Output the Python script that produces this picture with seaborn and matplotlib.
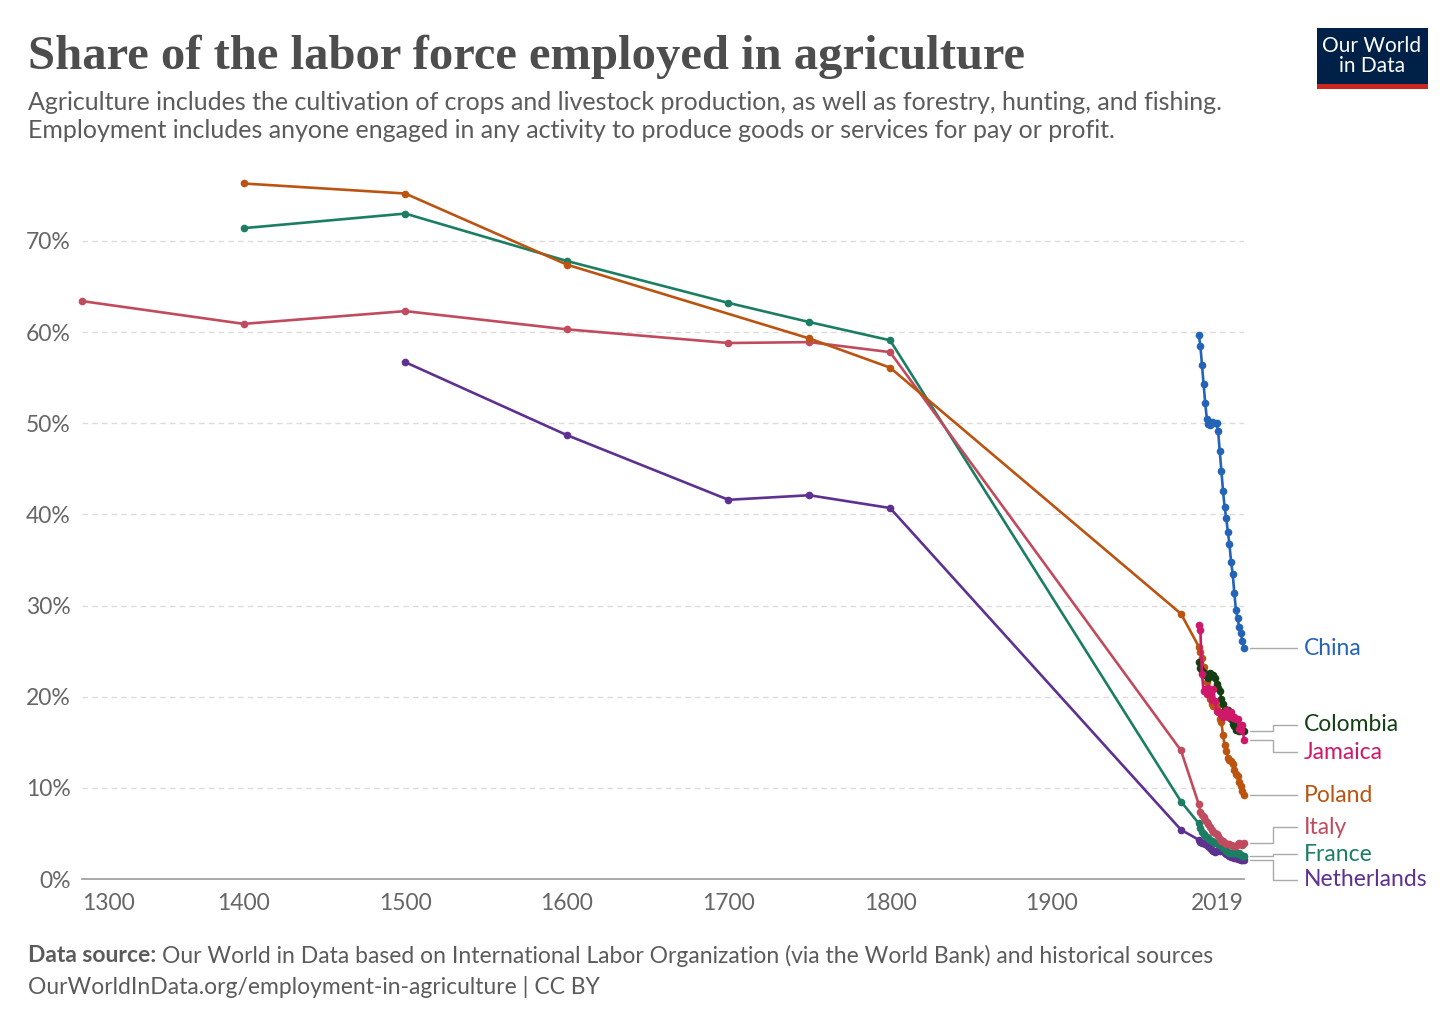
import numpy as np
import pandas as pd
import matplotlib
matplotlib.use("Agg")
import matplotlib.pyplot as plt
import matplotlib.transforms as mtransforms
from matplotlib.patches import Rectangle
import seaborn as sns

# ---------------- data ----------------
modern_years = list(range(1991, 2020))

china_years = modern_years
china_vals = [59.7, 58.5, 56.4, 54.3, 52.2, 50.5, 49.9, 49.8, 50.1, 50.0, 50.0, 50.0,
              49.1, 46.9, 44.8, 42.6, 40.8, 39.6, 38.1, 36.7, 34.8, 33.5, 31.4, 29.5,
              28.6, 27.7, 27.0, 26.1, 25.3]

colombia_years = modern_years
colombia_vals = [23.8, 23.2, 22.8, 22.6, 22.4, 22.3, 22.1, 22.6, 22.3, 22.4, 22.1, 21.4,
                 21.0, 20.6, 19.8, 19.2, 18.7, 18.5, 18.5, 18.3, 17.5, 17.0, 16.8, 16.4,
                 16.3, 16.2, 16.3, 16.4, 16.2]

jamaica_years = modern_years
jamaica_vals = [27.9, 27.3, 22.5, 20.6, 20.8, 20.3, 21.0, 20.4, 19.6, 20.8, 19.5, 18.4,
                18.3, 18.2, 18.1, 17.8, 18.0, 18.5, 17.8, 17.9, 18.3, 17.7, 17.8, 17.5,
                17.6, 16.5, 16.3, 16.9, 15.3]

poland_years = [1400, 1500, 1600, 1750, 1800, 1980] + modern_years
poland_vals = [76.3, 75.2, 67.4, 59.3, 56.1, 29.1,
               25.5, 24.9, 24.2, 23.3, 22.6, 21.6, 20.7, 19.8, 19.2, 19.0, 19.3, 19.0,
               18.4, 17.6, 17.2, 15.8, 14.7, 14.0, 13.3, 13.1, 12.9, 12.6, 12.0, 11.5,
               11.3, 10.6, 10.2, 9.6, 9.2]

italy_years = [1300, 1400, 1500, 1600, 1700, 1750, 1800, 1980] + modern_years
italy_vals = [63.4, 60.9, 62.3, 60.3, 58.8, 58.9, 57.8, 14.1,
              8.2, 7.4, 7.0, 6.8, 6.5, 6.3, 6.0, 5.7, 5.4, 5.2, 5.1, 4.9, 4.7, 4.4,
              4.2, 4.2, 4.0, 3.8, 3.8, 3.8, 3.7, 3.6, 3.6, 3.6, 3.8, 3.9, 3.8, 3.7, 3.9]

france_years = [1400, 1500, 1600, 1700, 1750, 1800, 1980] + modern_years
france_vals = [71.4, 73.0, 67.8, 63.2, 61.1, 59.1, 8.5,
               6.1, 5.6, 5.2, 4.9, 4.7, 4.6, 4.5, 4.3, 4.2, 4.1, 4.0, 3.9, 3.8, 3.7,
               3.6, 3.4, 3.3, 3.1, 3.0, 2.9, 2.9, 2.9, 2.8, 2.8, 2.7, 2.8, 2.6, 2.5, 2.5]

netherlands_years = [1500, 1600, 1700, 1750, 1800, 1980] + modern_years
netherlands_vals = [56.7, 48.7, 41.6, 42.1, 40.7, 5.4,
                    4.3, 4.1, 4.0, 3.9, 3.8, 3.7, 3.6, 3.4, 3.2, 3.1, 3.0, 3.1, 3.2,
                    3.1, 3.2, 3.1, 2.9, 2.7, 2.6, 2.5, 2.4, 2.4, 2.3, 2.3, 2.2, 2.2,
                    2.1, 2.1, 2.1]

countries = ["China", "Colombia", "Jamaica", "Poland", "Italy", "France", "Netherlands"]
series = {
    "China": (china_years, china_vals),
    "Colombia": (colombia_years, colombia_vals),
    "Jamaica": (jamaica_years, jamaica_vals),
    "Poland": (poland_years, poland_vals),
    "Italy": (italy_years, italy_vals),
    "France": (france_years, france_vals),
    "Netherlands": (netherlands_years, netherlands_vals),
}
colors = {
    "China": "#2363B8",
    "Colombia": "#133F13",
    "Jamaica": "#D0186A",
    "Poland": "#BB5411",
    "Italy": "#C14B5E",
    "France": "#1B7E62",
    "Netherlands": "#5E3190",
}
# label y positions (in % units) after de-overlapping, as in the reference
label_y = {"China": 25.2, "Colombia": 16.9, "Jamaica": 13.9, "Poland": 9.0,
           "Italy": 5.7, "France": 2.7, "Netherlands": -0.1}
elbow = {"China": False, "Colombia": True, "Jamaica": True, "Poland": False,
         "Italy": True, "France": True, "Netherlands": True}

xticks = [1300, 1400, 1500, 1600, 1700, 1800, 1900, 2019]
yticks = [0, 10, 20, 30, 40, 50, 60, 70]

rows = []
for c in countries:
    ys, vs = series[c]
    for y, v in zip(ys, vs):
        rows.append({"country": c, "year": y, "share": v})
df = pd.DataFrame(rows)

# ---------------- style ----------------
sns.set_theme(style="white")
plt.rcParams["font.family"] = ["Lato", "DejaVu Sans"]

W, H = 1456, 1028
fig = plt.figure(figsize=(W / 100, H / 100), dpi=100)
ax = fig.add_axes([82 / W, 1 - 879 / H, (1244 - 82) / W, (879 - 168) / H])

for c in ["Netherlands", "France", "Italy", "Poland", "Colombia", "Jamaica", "China"]:
    sub = df[df.country == c]
    sns.lineplot(data=sub, x="year", y="share", color=colors[c], ax=ax,
                 marker="o", markersize=5.5, markeredgewidth=0, linewidth=1.9,
                 estimator=None, sort=False, legend=False)
for ln in ax.lines:
    ln.set_clip_on(False)

ax.set_xlim(1300, 2019)
ax.set_ylim(0, 78)
ax.set_xlabel("")
ax.set_ylabel("")

for v in yticks[1:]:
    ax.axhline(v, color="#dcdcdc", linestyle=(0, (4, 3)), linewidth=1, zorder=0)

for s in ["top", "right", "left"]:
    ax.spines[s].set_visible(False)
ax.spines["bottom"].set_color("#999999")
ax.spines["bottom"].set_linewidth(1.2)

ax.set_yticks(yticks)
ax.set_yticklabels([f"{v}%" for v in yticks], fontsize=16.5, color="#666666")
ax.tick_params(axis="y", length=0, pad=8)
ax.set_xticks(xticks)
xl = ax.set_xticklabels([str(v) for v in xticks], fontsize=16.5, color="#666666")
xl[0].set_ha("left")
xl[-1].set_ha("right")
ax.tick_params(axis="x", length=6, width=1, color="#999999", direction="out", pad=4)

# ---------------- line labels ----------------
tr = mtransforms.blended_transform_factory(ax.transAxes, ax.transData)
axw = 1244 - 82
x0 = (1250 - 82) / axw
xe = (1273 - 82) / axw
x1 = (1297 - 82) / axw
xt = (1304 - 82) / axw
for c in countries:
    yend = series[c][1][-1]
    ly = label_y[c]
    if elbow[c]:
        ax.plot([x0, xe, xe, x1], [yend, yend, ly, ly], transform=tr,
                color="#aaaaaa", lw=1, clip_on=False)
    else:
        ax.plot([x0, x1], [yend, yend], transform=tr, color="#aaaaaa", lw=1,
                clip_on=False)
        ly = yend
    ax.text(xt, ly, c, transform=tr, color=colors[c], fontsize=16.5,
            va="center", ha="left")

# ---------------- titles ----------------
fig.text(28 / W, 1 - 57 / H, "Share of the labor force employed in agriculture",
         fontsize=35, fontweight="bold", color="#4d4d4d", va="center", ha="left",
         family=["Liberation Serif", "DejaVu Serif"])
fig.text(28 / W, 1 - 102 / H,
         "Agriculture includes the cultivation of crops and livestock production, as well as forestry, hunting, and fishing.",
         fontsize=18, color="#5b5b5b", va="center", ha="left")
fig.text(28 / W, 1 - 131 / H,
         "Employment includes anyone engaged in any activity to produce goods or services for pay or profit.",
         fontsize=18, color="#5b5b5b", va="center", ha="left")

# footer
t1 = fig.text(28 / W, 1 - 956 / H, "Data source:", fontsize=16.5, fontweight="bold",
              color="#5b5b5b", va="center", ha="left")
fig.canvas.draw()
bb = t1.get_window_extent()
fig.text((bb.x1 + 6) / W, 1 - 956 / H,
         "Our World in Data based on International Labor Organization (via the World Bank) and historical sources",
         fontsize=16.5, color="#5b5b5b", va="center", ha="left")
fig.text(28 / W, 1 - 987 / H, "OurWorldInData.org/employment-in-agriculture | CC BY",
         fontsize=16.5, color="#5b5b5b", va="center", ha="left")

# logo
fig.patches.append(Rectangle((1317 / W, 1 - 88 / H), (1428 - 1317) / W, (88 - 28) / H,
                             transform=fig.transFigure, facecolor="#002147",
                             edgecolor="none"))
fig.patches.append(Rectangle((1317 / W, 1 - 89 / H), (1428 - 1317) / W, 5 / H,
                             transform=fig.transFigure, facecolor="#CE261E",
                             edgecolor="none"))
fig.text(1372 / W, 1 - 56 / H, "Our World\nin Data", fontsize=15, color="white",
         ha="center", va="center", linespacing=1.0)

fig.savefig("out.png", dpi=100)
